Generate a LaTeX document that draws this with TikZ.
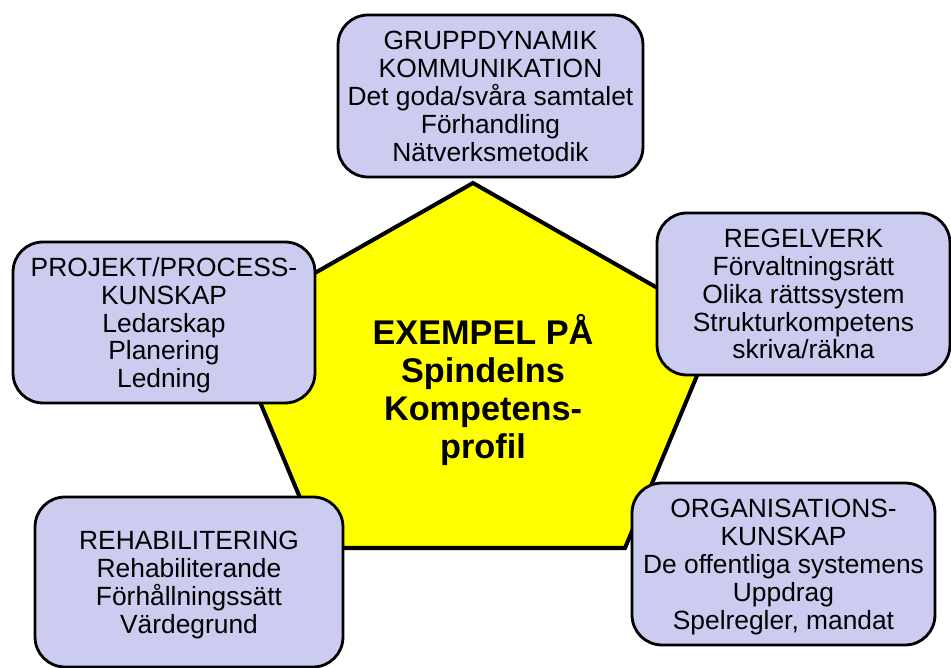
\documentclass[tikz,border=0pt]{standalone}
\usepackage{fontspec}
\setmainfont{Liberation Sans}
\usepackage{tikz}
\usetikzlibrary{calc}
\definecolor{ccccff}{rgb}{0.8,0.8,0.94}
\definecolor{ffffqq}{rgb}{1.,1.,0.}
\tikzset{kompbox/.style={draw=black,line width=1.6pt,fill=ccccff,rounded corners=17pt,align=center,inner sep=0pt,font=\fontsize{15}{15.9}\selectfont}}

\begin{document}
\begin{tikzpicture}[line cap=round,line join=round,x=0.02cm,y=-0.02cm]
  \useasboundingbox (0,0) rectangle (951,668);
  % femhorningen
  \coordinate (ptop) at (473,183);
  \coordinate (pright) at (719,323);
  \coordinate (pbr) at (625,548);
  \coordinate (pbl) at (321,548);
  \coordinate (pleft) at (227,323);
  \fill[ffffqq] (ptop) -- (pright) -- (pbr) -- (pbl) -- (pleft) -- cycle;
  \draw[line width=2.3pt,line join=miter] (ptop) -- (pright) -- (pbr) -- (pbl) -- (pleft) -- cycle;
  \node[align=center,font=\fontsize{19.5}{21.5}\selectfont\bfseries] (profil) at (483,390)
    {EXEMPEL PÅ\\Spindelns\hspace*{0.35em}\\Kompetens-\\profil};
  % rutorna
  \node[kompbox,text depth=-5pt,minimum width=6.1cm,minimum height=3.24cm] (grupp) at (490.5,96)
    {GRUPPDYNAMIK\\KOMMUNIKATION\\Det goda/svåra samtalet\\Förhandling\\Nätverksmetodik};
  \node[kompbox,text depth=-4pt,minimum width=6.04cm,minimum height=3.22cm] (projekt) at (164,322.5)
    {PROJEKT/PROCESS-\\KUNSKAP\\Ledarskap\\Planering\\Ledning};
  \node[kompbox,minimum width=5.86cm,minimum height=3.24cm] (regel) at (803.5,294)
    {REGELVERK\\Förvaltningsrätt\\Olika rättssystem\\Strukturkompetens\\skriva/räkna};
  \node[kompbox,text depth=-9.5pt,minimum width=6.16cm,minimum height=3.4cm] (rehab) at (189,582)
    {REHABILITERING\\Rehabiliterande\\Förhållningssätt\\Värdegrund};
  \node[kompbox,text depth=-4.8pt,minimum width=6.06cm,minimum height=3.24cm] (org) at (783.5,564)
    {ORGANISATIONS-\\KUNSKAP\\De offentliga systemens\\Uppdrag\\Spelregler, mandat};
\end{tikzpicture}
\end{document}
